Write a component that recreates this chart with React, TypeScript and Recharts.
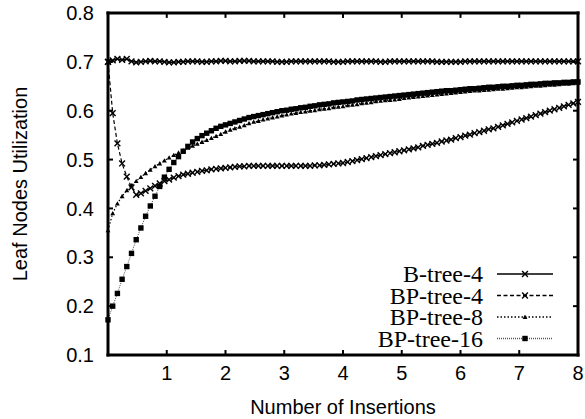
import { LineChart, Line, XAxis, YAxis, Legend, Label, ReferenceLine } from "recharts";

// insertion counts (x grid of the measurements)
const insertions = [
  0, 0.08, 0.16, 0.24, 0.32, 0.4, 0.48, 0.56, 0.64, 0.72,
  0.8, 0.88, 0.96, 1.04, 1.12, 1.2, 1.28, 1.36, 1.44, 1.52,
  1.6, 1.68, 1.76, 1.84, 1.92, 2, 2.08, 2.16, 2.24, 2.32,
  2.4, 2.48, 2.56, 2.64, 2.72, 2.8, 2.88, 2.96, 3.04, 3.12,
  3.2, 3.28, 3.36, 3.44, 3.52, 3.6, 3.68, 3.76, 3.84, 3.92,
  4, 4.08, 4.16, 4.24, 4.32, 4.4, 4.48, 4.56, 4.64, 4.72,
  4.8, 4.88, 4.96, 5.04, 5.12, 5.2, 5.28, 5.36, 5.44, 5.52,
  5.6, 5.68, 5.76, 5.84, 5.92, 6, 6.08, 6.16, 6.24, 6.32,
  6.4, 6.48, 6.56, 6.64, 6.72, 6.8, 6.88, 6.96, 7.04, 7.12,
  7.2, 7.28, 7.36, 7.44, 7.52, 7.6, 7.68, 7.76, 7.84, 7.92,
  8,
];

const bTree4 = [
  0.700, 0.703, 0.706, 0.704, 0.706, 0.701, 0.699, 0.700, 0.701, 0.702,
  0.701, 0.701, 0.700, 0.699, 0.699, 0.700, 0.700, 0.701, 0.701, 0.701,
  0.700, 0.700, 0.701, 0.701, 0.702, 0.702, 0.701, 0.701, 0.702, 0.702,
  0.702, 0.701, 0.701, 0.701, 0.701, 0.701, 0.700, 0.700, 0.700, 0.701,
  0.701, 0.701, 0.701, 0.701, 0.701, 0.701, 0.701, 0.701, 0.700, 0.700,
  0.700, 0.701, 0.701, 0.701, 0.701, 0.701, 0.701, 0.701, 0.700, 0.700,
  0.701, 0.701, 0.701, 0.701, 0.701, 0.701, 0.701, 0.701, 0.701, 0.701,
  0.700, 0.700, 0.700, 0.700, 0.700, 0.700, 0.701, 0.701, 0.701, 0.701,
  0.701, 0.701, 0.701, 0.701, 0.701, 0.701, 0.701, 0.701, 0.701, 0.701,
  0.701, 0.701, 0.701, 0.701, 0.701, 0.701, 0.701, 0.701, 0.701, 0.701,
  0.701,
];

const bpTree4 = [
  0.700, 0.595, 0.533, 0.492, 0.465, 0.443, 0.428, 0.431, 0.436, 0.441,
  0.446, 0.451, 0.456, 0.459, 0.463, 0.466, 0.469, 0.471, 0.473, 0.475,
  0.477, 0.478, 0.480, 0.481, 0.482, 0.483, 0.484, 0.485, 0.486, 0.486,
  0.487, 0.487, 0.487, 0.487, 0.487, 0.487, 0.487, 0.487, 0.487, 0.487,
  0.487, 0.487, 0.487, 0.487, 0.488, 0.488, 0.489, 0.490, 0.491, 0.492,
  0.493, 0.495, 0.497, 0.499, 0.501, 0.503, 0.505, 0.507, 0.509, 0.511,
  0.513, 0.515, 0.517, 0.519, 0.521, 0.523, 0.525, 0.528, 0.530, 0.532,
  0.534, 0.537, 0.539, 0.541, 0.544, 0.546, 0.549, 0.551, 0.554, 0.556,
  0.559, 0.562, 0.564, 0.567, 0.570, 0.573, 0.576, 0.579, 0.582, 0.585,
  0.588, 0.591, 0.594, 0.597, 0.600, 0.603, 0.606, 0.609, 0.612, 0.615,
  0.618,
];

const bpTree8 = [
  0.355, 0.390, 0.410, 0.425, 0.437, 0.447, 0.456, 0.464, 0.472, 0.479,
  0.486, 0.492, 0.498, 0.504, 0.509, 0.514, 0.519, 0.524, 0.528, 0.532,
  0.536, 0.540, 0.544, 0.548, 0.552, 0.557, 0.561, 0.564, 0.567, 0.570,
  0.574, 0.577, 0.579, 0.582, 0.584, 0.586, 0.588, 0.590, 0.592, 0.594,
  0.595, 0.597, 0.598, 0.600, 0.601, 0.603, 0.604, 0.605, 0.607, 0.608,
  0.609, 0.611, 0.612, 0.613, 0.615, 0.616, 0.617, 0.619, 0.620, 0.621,
  0.622, 0.623, 0.624, 0.626, 0.627, 0.628, 0.629, 0.630, 0.631, 0.632,
  0.633, 0.634, 0.635, 0.636, 0.637, 0.638, 0.639, 0.640, 0.641, 0.641,
  0.642, 0.643, 0.644, 0.645, 0.645, 0.646, 0.647, 0.648, 0.648, 0.649,
  0.650, 0.651, 0.651, 0.652, 0.653, 0.653, 0.654, 0.655, 0.655, 0.656,
  0.657,
];

const bpTree16 = [
  0.172, 0.200, 0.226, 0.255, 0.281, 0.308, 0.336, 0.360, 0.384, 0.405,
  0.425, 0.445, 0.464, 0.480, 0.494, 0.506, 0.517, 0.527, 0.536, 0.543,
  0.549, 0.554, 0.559, 0.564, 0.568, 0.571, 0.574, 0.577, 0.580, 0.583,
  0.586, 0.588, 0.590, 0.592, 0.594, 0.596, 0.598, 0.600, 0.601, 0.603,
  0.604, 0.606, 0.607, 0.609, 0.610, 0.612, 0.613, 0.614, 0.616, 0.617,
  0.618, 0.619, 0.620, 0.622, 0.623, 0.624, 0.625, 0.626, 0.627, 0.628,
  0.629, 0.630, 0.631, 0.632, 0.633, 0.634, 0.635, 0.636, 0.637, 0.638,
  0.639, 0.640, 0.641, 0.641, 0.642, 0.643, 0.644, 0.645, 0.645, 0.646,
  0.647, 0.648, 0.648, 0.649, 0.650, 0.650, 0.651, 0.652, 0.652, 0.653,
  0.654, 0.654, 0.655, 0.656, 0.656, 0.657, 0.657, 0.658, 0.658, 0.659,
  0.659,
];

const xTicks = [1, 2, 3, 4, 5, 6, 7, 8];
const xInnerTicks = [1, 2, 3, 4, 5, 6, 7];
const yTicks = [0.1, 0.2, 0.3, 0.4, 0.5, 0.6, 0.7, 0.8];
const yInnerTicks = [0.2, 0.3, 0.4, 0.5, 0.6, 0.7];
const seriesNames = ["B-tree-4", "BP-tree-4", "BP-tree-8", "BP-tree-16"];

const data = insertions.map((x, i) => ({
  x,
  bTree4: bTree4[i],
  bpTree4: bpTree4[i],
  bpTree8: bpTree8[i],
  bpTree16: bpTree16[i],
}));

const SANS = "'Liberation Sans', Arial, Helvetica, sans-serif";
const SERIF = "'Liberation Serif', 'Times New Roman', serif";
const frame = { stroke: "#000", strokeWidth: 3, strokeLinecap: "square" as const };
const tickMark = { stroke: "#000", strokeWidth: 2 };

function Cross({ cx, cy }: { cx: number; cy: number }) {
  const r = 2.9;
  return (
    <g stroke="#000" strokeWidth={1.4}>
      <line x1={cx - r} y1={cy - r} x2={cx + r} y2={cy + r} />
      <line x1={cx - r} y1={cy + r} x2={cx + r} y2={cy - r} />
    </g>
  );
}

function Tri({ cx, cy }: { cx: number; cy: number }) {
  const r = 2.4;
  return <polygon points={`${cx},${cy - r} ${cx - r},${cy + r * 0.8} ${cx + r},${cy + r * 0.8}`} fill="#000" />;
}

function Square({ cx, cy }: { cx: number; cy: number }) {
  const r = 2.7;
  return <rect x={cx - r} y={cy - r} width={r * 2} height={r * 2} fill="#000" />;
}

const crossDot = (p: any) => <Cross key={`c${p.index}`} cx={p.cx} cy={p.cy} />;
const triDot = (p: any) => <Tri key={`t${p.index}`} cx={p.cx} cy={p.cy} />;
const squareDot = (p: any) => <Square key={`s${p.index}`} cx={p.cx} cy={p.cy} />;

const legendStyles = [
  { dash: undefined, color: "#000", Marker: Cross },
  { dash: "4 2.5", color: "#000", Marker: Cross },
  { dash: "1.5 2", color: "#000", Marker: Tri },
  { dash: "1 1", color: "#555", Marker: Square },
];

function LegendBox() {
  const rows = [19, 40.5, 62, 83.5];
  return (
    <svg width={215} height={100} style={{ overflow: "visible" }}>
      {seriesNames.map((name, i) => {
        const s = legendStyles[i];
        const M = s.Marker;
        return (
          <g key={name}>
            <text
              x={123}
              y={rows[i] + 8}
              textAnchor="end"
              fontFamily={SERIF}
              fontSize={24}
              fill="#000"
            >
              {name}
            </text>
            <line
              x1={137}
              x2={193}
              y1={rows[i]}
              y2={rows[i]}
              stroke={s.color}
              strokeWidth={1.3}
              strokeDasharray={s.dash}
            />
            <M cx={165} cy={rows[i]} />
          </g>
        );
      })}
    </svg>
  );
}

export default function App() {
  return (
    <div style={{ position: "absolute", left: 0, top: 0, background: "#fff" }}>
      <LineChart
        width={585}
        height={419}
        data={data}
        margin={{ top: 13, right: 7, bottom: 0, left: 0 }}
      >
        <XAxis
          dataKey="x"
          type="number"
          domain={[0, 8]}
          ticks={xTicks}
          interval={0}
          height={64}
          tickSize={-5}
          tickMargin={16}
          axisLine={frame}
          tickLine={tickMark}
          tick={{ fill: "#000", fontSize: 20, fontFamily: SANS }}
        >
          <Label
            value="Number of Insertions"
            position="insideBottom"
            offset={5}
            style={{ fill: "#000", fontSize: 20, fontFamily: SANS }}
          />
        </XAxis>
        <YAxis
          type="number"
          domain={[0.1, 0.8]}
          ticks={yTicks}
          interval={0}
          width={108}
          tickSize={-5}
          tickMargin={19}
          axisLine={frame}
          tickLine={tickMark}
          tickFormatter={(v: number) => v.toFixed(1)}
          tick={{ fill: "#000", fontSize: 20, fontFamily: SANS }}
        >
          <Label
            value="Leaf Nodes Utilization"
            angle={-90}
            position="insideLeft"
            offset={20}
            style={{ fill: "#000", fontSize: 20, fontFamily: SANS, textAnchor: "middle" }}
          />
        </YAxis>
        {/* top and right edges of the frame with their inward ticks */}
        <ReferenceLine y={0.8} {...frame} ifOverflow="visible" />
        <ReferenceLine x={8} {...frame} ifOverflow="visible" />
        {xInnerTicks.map((t) => (
          <ReferenceLine
            key={`tx${t}`}
            segment={[{ x: t, y: 0.8 }, { x: t, y: 0.79 }]}
            {...tickMark}
            ifOverflow="visible"
          />
        ))}
        {yInnerTicks.map((t) => (
          <ReferenceLine
            key={`ty${t}`}
            segment={[{ x: 8, y: t }, { x: 7.915, y: t }]}
            {...tickMark}
            ifOverflow="visible"
          />
        ))}
        <Line
          dataKey="bpTree16"
          name={seriesNames[3]}
          stroke="#555"
          strokeWidth={1}
          strokeDasharray="1 1"
          dot={squareDot}
          isAnimationActive={false}
        />
        <Line
          dataKey="bpTree8"
          name={seriesNames[2]}
          stroke="#000"
          strokeWidth={1.2}
          strokeDasharray="1.5 2"
          dot={triDot}
          isAnimationActive={false}
        />
        <Line
          dataKey="bpTree4"
          name={seriesNames[1]}
          stroke="#000"
          strokeWidth={1.2}
          strokeDasharray="4 2.5"
          dot={crossDot}
          isAnimationActive={false}
        />
        <Line
          dataKey="bTree4"
          name={seriesNames[0]}
          stroke="#000"
          strokeWidth={1.5}
          dot={crossDot}
          isAnimationActive={false}
        />
        <Legend
          layout="horizontal"
          verticalAlign="middle"
          align="center"
          content={() => <LegendBox />}
          wrapperStyle={{ left: 360, top: 255, width: 215, height: 100 }}
        />
      </LineChart>
    </div>
  );
}
